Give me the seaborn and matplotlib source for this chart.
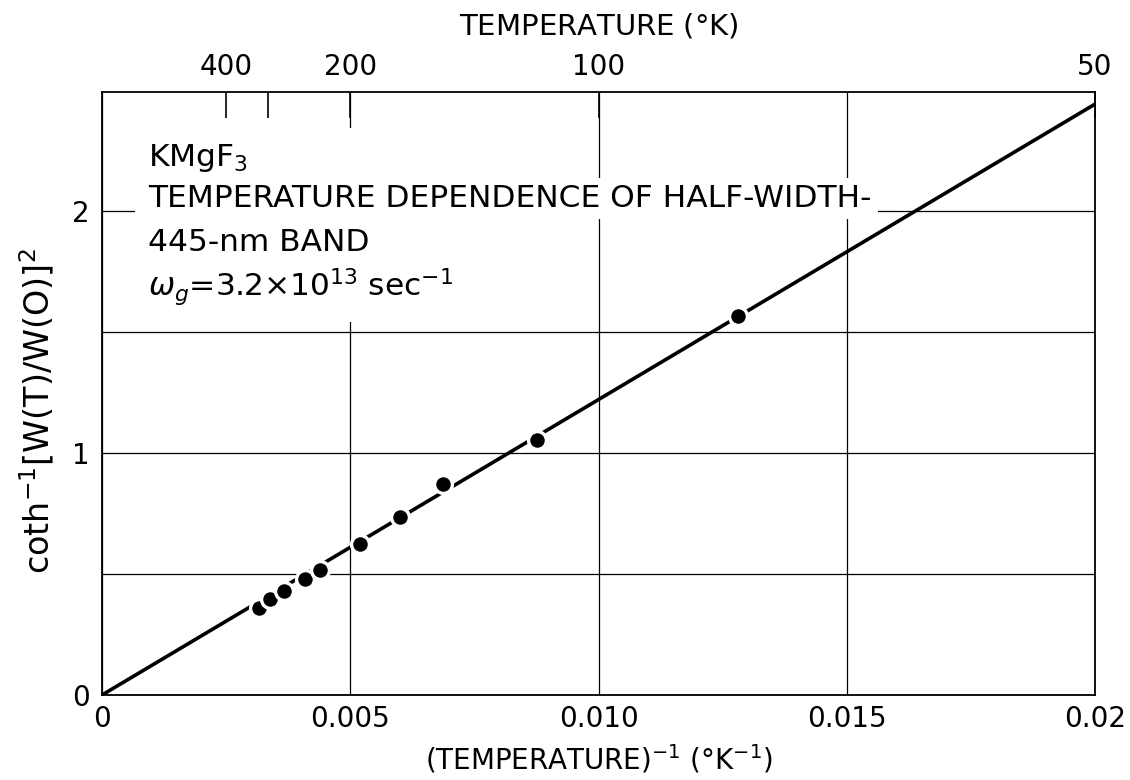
import numpy as np
import pandas as pd
import matplotlib
matplotlib.use("Agg")
import matplotlib.pyplot as plt
import seaborn as sns
from matplotlib.patches import Rectangle

# ---- data ----
inv_temp = [0.00316, 0.00338, 0.00367, 0.00409, 0.00439, 0.00520, 0.00600, 0.00687, 0.00876, 0.01281]
coth_val = [0.360, 0.397, 0.430, 0.479, 0.517, 0.624, 0.736, 0.872, 1.054, 1.566]
fit_x = [0.0, 0.02]
fit_y = [0.0, 2.44]

x_ticks = [0.0, 0.005, 0.010, 0.015, 0.02]
x_tick_labels = ["0", "0.005", "0.010", "0.015", "0.02"]
y_ticks = [0.0, 0.5, 1.0, 1.5, 2.0]
y_tick_labels = ["0", "", "1", "", "2"]
temp_ticks = [400, 300, 200, 100, 50]
temp_labels = ["400", "", "200", "100", "50"]

sns.set_theme(style="white")
plt.rcParams['font.family'] = ['DejaVu Sans']
plt.rcParams['mathtext.fontset'] = 'dejavusans'
plt.rcParams['text.color'] = 'black'

fig, ax = plt.subplots(figsize=(11.3, 7.8), dpi=100)
fig.subplots_adjust(left=0.0903, right=0.969, top=0.882, bottom=0.109)

df_pts = pd.DataFrame({"x": inv_temp, "y": coth_val})
df_fit = pd.DataFrame({"x": fit_x, "y": fit_y})

sns.lineplot(data=df_fit, x="x", y="y", ax=ax, color="black", lw=2.6, zorder=3)
sns.scatterplot(data=df_pts, x="x", y="y", ax=ax, s=165, color="black",
                edgecolor="white", linewidth=2.4, zorder=4)

ax.set_xlim(0, 0.02)
ax.set_ylim(0, 2.49)
ax.set_xticks(x_ticks)
ax.set_xticklabels(x_tick_labels)
ax.set_yticks(y_ticks)
ax.set_yticklabels(y_tick_labels)
ax.tick_params(axis="both", length=0, labelsize=20, colors="black")
ax.tick_params(axis="x", pad=7)
ax.tick_params(axis="y", pad=9)
ax.grid(True, color="black", lw=0.9)
for sp in ax.spines.values():
    sp.set_color("black")
    sp.set_linewidth(1.3)

ax.set_xlabel(r"(TEMPERATURE)$^{-1}$ ($\degree$K$^{-1}$)", fontsize=20, color="black", labelpad=7)
ax.set_ylabel(r"coth$^{-1}\left[\mathrm{W(T)/W(O)}\right]^2$", fontsize=24, color="black",
              labelpad=6)
ax.yaxis.set_label_coords(-0.046, 0.47)

# top temperature axis
ax2 = ax.twiny()
ax2.set_xlim(ax.get_xlim())
ax2.set_xticks([1.0 / t for t in temp_ticks])
ax2.set_xticklabels(temp_labels)
ax2.tick_params(axis="x", direction="in", length=19, width=1.2, labelsize=20,
                colors="black", pad=8)
ax2.grid(False)
for sp in ax2.spines.values():
    sp.set_visible(False)
ax2.set_xlabel(r"TEMPERATURE ($\degree$K)", fontsize=21, color="black", labelpad=13)

# white block behind the annotation text
ax.add_patch(Rectangle((0.00066, 1.54), 0.0058, 0.80, facecolor="white",
                       edgecolor="none", zorder=1.5))

tx = 0.00093
fs = 22.5
ax.text(tx, 2.219, r"KMgF$_3$", fontsize=fs, va="center", ha="left", zorder=5, color="black")
ax.text(tx, 2.05, "TEMPERATURE DEPENDENCE OF HALF-WIDTH-", fontsize=fs, va="center",
        ha="left", zorder=5, color="black",
        bbox=dict(boxstyle="square,pad=0.2", facecolor="white", edgecolor="none"))
ax.text(tx, 1.868, "445-nm BAND", fontsize=fs, va="center", ha="left", zorder=5, color="black")
ax.text(tx, 1.682, r"$\omega_g$=3.2$\times$10$^{13}$ sec$^{-1}$", fontsize=fs,
        va="center", ha="left", zorder=5, color="black")

fig.savefig("out.png", dpi=100, facecolor="white")
